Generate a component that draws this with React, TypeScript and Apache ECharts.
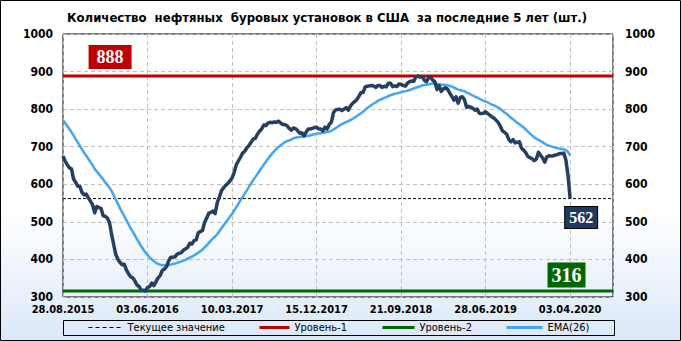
import React, { useEffect, useRef } from "react";
import * as echarts from "echarts";

// Weekly US oil rig count (Fridays, from 28.08.2015 to 03.04.2020)
const RIGS: number[] = [
  675, 662, 652, 644, 641, 614, 605, 595, 594, 578,
  572, 574, 564, 555, 545, 524, 541, 538, 536, 516,
  515, 510, 498, 467, 439, 413, 400, 392, 386, 387,
  372, 362, 354, 351, 343, 332, 328, 318, 318, 316,
  325, 328, 337, 330, 341, 351, 357, 371, 374, 381,
  396, 406, 406, 407, 414, 416, 418, 425, 428, 432,
  443, 441, 450, 452, 471, 474, 477, 498, 510, 523,
  525, 529, 522, 551, 566, 583, 591, 597, 602, 609,
  617, 631, 652, 662, 672, 683, 688, 697, 703, 712,
  720, 722, 733, 741, 747, 758, 756, 763, 765, 764,
  766, 765, 768, 763, 759, 759, 756, 749, 744, 750,
  748, 743, 736, 737, 729, 738, 747, 747, 749, 751,
  752, 747, 747, 742, 752, 747, 759, 765, 791, 798,
  799, 800, 796, 800, 804, 797, 808, 815, 820, 825,
  834, 844, 844, 859, 861, 862, 863, 862, 858, 863,
  863, 858, 861, 859, 869, 869, 860, 862, 860, 867,
  866, 863, 861, 869, 873, 875, 874, 886, 888, 885,
  887, 877, 873, 883, 885, 877, 873, 852, 862, 847,
  854, 857, 853, 843, 834, 824, 833, 816, 831, 833,
  825, 805, 807, 805, 802, 797, 800, 789, 788, 789,
  793, 788, 784, 779, 776, 770, 764, 754, 742, 738,
  733, 719, 713, 719, 710, 712, 713, 696, 691, 684,
  674, 671, 668, 663, 667, 685, 677, 670, 659, 673,
  676, 675, 676, 678, 679, 682, 682, 683, 664, 624,
  562,
];

// EMA(26) line, same weeks
const EMA26: number[] = [
  771, 763, 755, 747, 739, 730, 720, 711, 702, 693,
  684, 676, 668, 659, 651, 641, 634, 627, 620, 613,
  605, 598, 591, 582, 571, 559, 548, 536, 525, 515,
  504, 494, 483, 474, 464, 454, 445, 435, 427, 418,
  412, 405, 400, 395, 391, 388, 386, 385, 384, 384,
  385, 386, 388, 389, 391, 393, 395, 397, 399, 402,
  405, 407, 411, 414, 418, 422, 426, 432, 437, 444,
  450, 456, 461, 467, 475, 483, 491, 498, 506, 514,
  521, 530, 539, 548, 557, 566, 575, 584, 593, 602,
  611, 619, 627, 636, 644, 652, 660, 668, 675, 682,
  688, 694, 699, 704, 708, 712, 715, 717, 719, 722,
  724, 725, 726, 727, 727, 728, 729, 730, 732, 733,
  735, 735, 736, 737, 738, 739, 740, 742, 746, 749,
  753, 757, 760, 763, 766, 768, 771, 774, 778, 781,
  785, 789, 793, 798, 803, 807, 811, 815, 818, 822,
  825, 827, 830, 832, 835, 837, 839, 841, 842, 844,
  845, 847, 848, 849, 851, 853, 855, 857, 859, 861,
  863, 864, 865, 866, 867, 868, 869, 867, 867, 865,
  865, 864, 863, 862, 860, 857, 855, 852, 851, 849,
  848, 844, 842, 839, 836, 833, 831, 828, 825, 822,
  820, 818, 815, 812, 810, 807, 804, 800, 796, 791,
  787, 782, 777, 773, 768, 764, 760, 755, 751, 746,
  740, 735, 730, 725, 721, 718, 715, 712, 708, 705,
  703, 701, 699, 698, 696, 695, 694, 693, 691, 686,
  677,
];

const LEVEL_1 = 888;
const LEVEL_2 = 316;
const CURRENT = 562;

const Y_TICKS = [300, 400, 500, 600, 700, 800, 900, 1000];
const START_DATE = Date.UTC(2015, 7, 28);
const DAYS_PER_POINT = 7;
const TICK_DAYS = 280;
const X_MAX_DAYS = 1822;

const LEGEND_NAMES = ["Текущее значение", "Уровень-1", "Уровень-2", "EMA(26)"];

const DAY_MS = 86400000;
const pad = (n: number) => (n < 10 ? "0" + n : "" + n);
const fmtDate = (days: number) => {
  const d = new Date(START_DATE + days * DAY_MS);
  return pad(d.getUTCDate()) + "." + pad(d.getUTCMonth() + 1) + "." + d.getUTCFullYear();
};

export default function App() {
  const ref = useRef<HTMLDivElement>(null);

  useEffect(() => {
    document.body.style.margin = "0";
    if (!ref.current) return;
    const chart = echarts.init(ref.current, undefined, { renderer: "svg" });

    const mainData = RIGS.map((v, i) => [i * DAYS_PER_POINT, v]);
    const emaData = EMA26.map((v, i) => [i * DAYS_PER_POINT, v]);
    const lastX = (RIGS.length - 1) * DAYS_PER_POINT;
    const yMin = Y_TICKS[0];
    const yMax = Y_TICKS[Y_TICKS.length - 1];
    const labelFont = "'Liberation Serif', 'Times New Roman', serif";
    const axisFont = "'DejaVu Sans Condensed', 'DejaVu Sans', sans-serif";

    const markLabel = (bg: string, size: number, offset: number[], padding: number[], border?: string) => ({
      show: true,
      position: "inside",
      offset,
      formatter: "{c}",
      color: "#fff",
      fontFamily: labelFont,
      fontWeight: "bold",
      fontSize: size,
      lineHeight: size + 2,
      backgroundColor: bg,
      padding,
      borderColor: border || bg,
      borderWidth: border ? 1 : 0,
    });

    const legendBase = {
      top: 322,
      padding: 0,
      itemHeight: 12,
      selectedMode: false,
      itemStyle: { opacity: 0 },
      textStyle: { fontFamily: axisFont, fontSize: 11, color: "#000" },
    };
    const legendPos = [
      { left: 88, itemWidth: 34, lineStyle: { width: 1, type: [4, 3] } },
      { left: 258, itemWidth: 30, lineStyle: { width: 3 } },
      { left: 381, itemWidth: 32, lineStyle: { width: 3 } },
      { left: 505, itemWidth: 36, lineStyle: { width: 3 } },
    ];

    const yLabel = (margin: number) => ({
      margin,
      fontFamily: axisFont,
      fontWeight: "bold",
      fontSize: 12,
      color: "#000",
      formatter: (v: number) => String(v),
    });

    const option: any = {
      animation: false,
      title: {
        text: "Количество  нефтяных  буровых установок в США  за последние 5 лет (шт.)",
        left: 67,
        top: 11,
        padding: 0,
        textStyle: { fontFamily: axisFont, fontWeight: "bold", fontSize: 13, color: "#000" },
      },
      grid: {
        left: 63,
        top: 34,
        width: 550,
        height: 263,
        show: true,
        borderColor: "#000",
        borderWidth: 1,
        backgroundColor: "transparent",
      },
      legend: LEGEND_NAMES.map((n, i) => ({
        ...legendBase,
        left: legendPos[i].left,
        itemWidth: legendPos[i].itemWidth,
        data: [{ name: n, lineStyle: legendPos[i].lineStyle, itemStyle: { opacity: 0 } }],
      })),
      xAxis: {
        type: "value",
        min: 0,
        max: X_MAX_DAYS,
        interval: TICK_DAYS,
        axisLine: { show: false },
        axisTick: { show: false },
        axisLabel: {
          margin: 7,
          fontFamily: axisFont,
          fontWeight: "bold",
          fontSize: 11,
          color: "#000",
          showMaxLabel: false,
          formatter: (v: number) => (v % TICK_DAYS === 0 ? fmtDate(v) : ""),
        },
        splitLine: { show: true, lineStyle: { color: "#c0c0c0", type: [4, 3], width: 1 } },
      },
      yAxis: [
        {
          type: "value",
          min: yMin,
          max: yMax,
          interval: 100,
          axisLine: { show: false },
          axisTick: { show: false },
          axisLabel: yLabel(10),
          splitLine: { show: true, lineStyle: { color: "#c0c0c0", type: [4, 3], width: 1 } },
        },
        {
          type: "value",
          position: "right",
          min: yMin,
          max: yMax,
          interval: 100,
          axisLine: { show: false },
          axisTick: { show: false },
          axisLabel: yLabel(12),
          splitLine: { show: false },
        },
      ],
      series: [
        {
          name: LEGEND_NAMES[0],
          type: "line",
          data: [[0, CURRENT], [X_MAX_DAYS, CURRENT]],
          symbol: "none",
          silent: true,
          color: "#000",
          lineStyle: { color: "#000", width: 1, type: [3, 2] },
          z: 2,
        },
        {
          name: LEGEND_NAMES[1],
          type: "line",
          data: [[0, LEVEL_1], [X_MAX_DAYS, LEVEL_1]],
          symbol: "none",
          silent: true,
          color: "#c00000",
          lineStyle: { color: "#c00000", width: 3 },
          z: 3,
          markPoint: {
            symbol: "rect",
            symbolSize: 1,
            itemStyle: { color: "transparent" },
            label: markLabel("#c00000", 18, [0, -19], [3, 8, 1, 8]),
            data: [{ coord: [156, LEVEL_1], value: LEVEL_1 }],
          },
        },
        {
          name: LEGEND_NAMES[2],
          type: "line",
          data: [[0, LEVEL_2], [X_MAX_DAYS, LEVEL_2]],
          symbol: "none",
          silent: true,
          color: "#006600",
          lineStyle: { color: "#006600", width: 3 },
          z: 3,
          markPoint: {
            symbol: "rect",
            symbolSize: 1,
            itemStyle: { color: "transparent" },
            label: markLabel("#006600", 20, [0, -16], [2, 4, 1, 4]),
            data: [{ coord: [1668, LEVEL_2], value: LEVEL_2 }],
          },
        },
        {
          name: LEGEND_NAMES[3],
          type: "line",
          data: emaData,
          symbol: "none",
          silent: true,
          color: "#42a5f5",
          lineStyle: { color: "#42a5f5", width: 2.5 },
          z: 4,
        },
        {
          name: "Нефтяные буровые",
          type: "line",
          data: mainData,
          symbol: "none",
          silent: true,
          color: "#243f60",
          lineStyle: { color: "#243f60", width: 3.5, join: "round" },
          z: 5,
          markPoint: {
            symbol: "rect",
            symbolSize: 1,
            itemStyle: { color: "transparent" },
            label: markLabel("#1f3a5f", 16, [11, 19], [2, 4, 1, 4], "#000"),
            data: [{ coord: [lastX, RIGS[RIGS.length - 1]], value: CURRENT }],
          },
        },
      ],
      graphic: [
        {
          type: "rect",
          silent: true,
          shape: { x: 63.5, y: 320.5, width: 551, height: 15 },
          style: { fill: "none", stroke: "#000", lineWidth: 1 },
        },
        {
          type: "rect",
          silent: true,
          shape: { x: 0.5, y: 0.5, width: 680, height: 340 },
          style: { fill: "none", stroke: "#000", lineWidth: 1 },
        },
      ],
    };

    chart.setOption(option);
    return () => chart.dispose();
  }, []);

  return (
    <div
      style={{
        width: 681,
        height: 341,
        position: "relative",
        background: "linear-gradient(to bottom, #ffffff 0%, #ffffff 62%, #dbe8f8 100%)",
      }}
    >
      <div ref={ref} style={{ width: 681, height: 341 }} />
    </div>
  );
}
